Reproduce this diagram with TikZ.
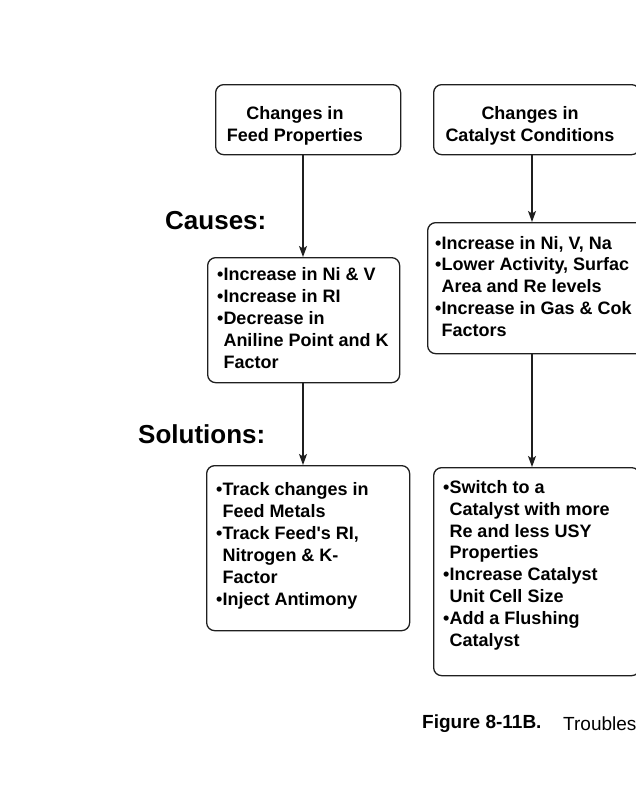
\documentclass[tikz,border=0pt]{standalone}
\usepackage{fontspec}
\setmainfont{Liberation Sans}
\usetikzlibrary{arrows.meta}
\tikzset{
  box/.style={draw=black!88, line width=1.3pt, rounded corners=8pt},
  boxtext/.style={inner sep=0pt, anchor=north west, align=left, font=\bfseries\fontsize{18}{22}\selectfont},
  headtext/.style={inner sep=0pt, anchor=north, align=center, font=\bfseries\fontsize{18}{22}\selectfont},
  biglabel/.style={inner sep=0pt, anchor=west, font=\bfseries\fontsize{26}{30}\selectfont},
  arr/.style={draw=black!88, line width=1.2pt, -{Stealth[length=11pt,width=8pt,inset=2.5pt]}},
}
\newcommand{\ind}{\phantom{•}}
\begin{document}
\begin{tikzpicture}[x=1pt,y=-1pt]
\useasboundingbox (0,0) rectangle (636,800);
\clip (0,0) rectangle (636,800);
% boxes
\node[box, minimum width=185pt, minimum height=70pt, anchor=north west] (b1) at (215,84) {};
\node[box, minimum width=206pt, minimum height=70pt, anchor=north west] (b2) at (433,84) {};
\node[box, minimum width=192pt, minimum height=125pt, anchor=north west] (b3) at (207,257) {};
\node[box, minimum width=225pt, minimum height=131pt, anchor=north west] (b4) at (427,222) {};
\node[box, minimum width=203pt, minimum height=165pt, anchor=north west] (b5) at (206,465) {};
\node[box, minimum width=206pt, minimum height=208pt, anchor=north west] (b6) at (433,467) {};
\coordinate (colL) at (303,0);
\coordinate (colR) at (532,0);
% texts
\node[headtext] (t1) at (295,106) {Changes in\\Feed Properties};
\node[headtext] (t2) at (530,106) {Changes in\\Catalyst Conditions};
\node[boxtext] (t3) at (217,267) {•Increase in Ni \& V\\•Increase in RI\\•Decrease in\\\ind Aniline Point and K\\\ind Factor};
\node[boxtext, font=\bfseries\fontsize{18}{21.7}\selectfont] (t4) at (435,236) {•Increase in Ni, V, Na\\•Lower Activity, Surfac\\\ind Area and Re levels\\•Increase in Gas \& Cok\\\ind Factors};
\node[boxtext] (t5) at (216,482) {•Track changes in\\\ind Feed Metals\\•Track Feed\textquotesingle s RI,\\\ind Nitrogen \& K-\\\ind Factor\\•Inject Antimony};
\node[boxtext, font=\bfseries\fontsize{18}{21.9}\selectfont] (t6) at (443,480) {•Switch to a\\\ind Catalyst with more\\\ind Re and less USY\\\ind Properties\\•Increase Catalyst\\\ind Unit Cell Size\\•Add a Flushing\\\ind Catalyst};
\node[biglabel] (causes) at (165,221) {Causes:};
\node[biglabel] (solutions) at (138,434) {Solutions:};
\node[inner sep=0pt, anchor=west, font=\bfseries\fontsize{19}{22}\selectfont] (cap1) at (422,724) {Figure 8-11B.};
\node[inner sep=0pt, anchor=west, font=\fontsize{19}{22}\selectfont] (cap2) at (563,724) {Troubles};
% connectors
\draw[arr] (b1.south -| colL) -- (b3.north -| colL);
\draw[arr] (b3.south -| colL) -- (b5.north -| colL);
\draw[arr] (b2.south -| colR) -- (b4.north -| colR);
\draw[arr] (b4.south -| colR) -- (b6.north -| colR);
\end{tikzpicture}
\end{document}
